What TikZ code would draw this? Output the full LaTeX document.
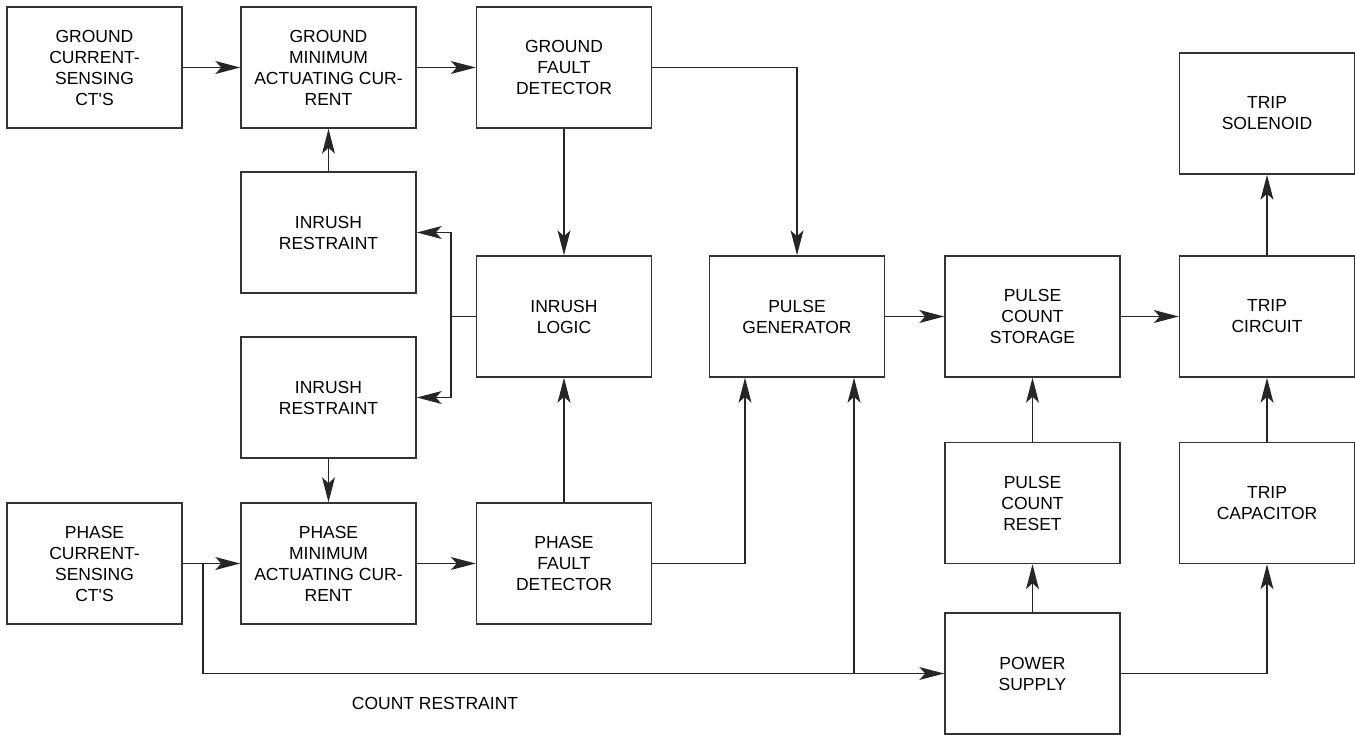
\documentclass[tikz,border=0pt]{standalone}
\usepackage{fontspec}
\setmainfont{Liberation Sans}
\usetikzlibrary{arrows.meta,calc}
\begin{document}
\begin{tikzpicture}[x=1pt,y=-1pt,
  blk/.style={draw=black!80,line width=1.5pt,minimum width=175pt,minimum height=121pt,
    inner sep=0pt,align=center,font=\fontsize{17.5}{21}\selectfont,text=black},
  arr/.style={line width=1.5pt,draw=black!85,-{Stealth[length=25pt,width=13pt,inset=6pt,line width=0pt]}},
  ln/.style={line width=1.5pt,draw=black!85}]
\useasboundingbox (0,0) rectangle (1355,735);
\node[blk] (gct) at (94.5,67.5) {GROUND\\CURRENT-\\SENSING\\CT\textquotesingle S};
\node[blk] (gmin) at (328.5,67.5) {GROUND\\MINIMUM\\ACTUATING CUR-\\RENT};
\node[blk] (gfd) at (564,67.5) {GROUND\\FAULT\\DETECTOR};
\node[blk] (ir1) at (328.5,232.5) {INRUSH\\RESTRAINT};
\node[blk] (il) at (564,316.5) {INRUSH\\LOGIC};
\node[blk] (ir2) at (328.5,397.5) {INRUSH\\RESTRAINT};
\node[blk] (pg) at (797,316.5) {PULSE\\GENERATOR};
\node[blk] (pcs) at (1032.5,316.5) {PULSE\\COUNT\\STORAGE};
\node[blk] (tc) at (1267,316.5) {TRIP\\CIRCUIT};
\node[blk] (ts) at (1267,113.5) {TRIP\\SOLENOID};
\node[blk] (pcr) at (1032.5,503) {PULSE\\COUNT\\RESET};
\node[blk] (tcap) at (1267,503) {TRIP\\CAPACITOR};
\node[blk] (pct) at (94.5,563.5) {PHASE\\CURRENT-\\SENSING\\CT\textquotesingle S};
\node[blk] (pmin) at (328.5,563.5) {PHASE\\MINIMUM\\ACTUATING CUR-\\RENT};
\node[blk] (pfd) at (564,563.5) {PHASE\\FAULT\\DETECTOR};
\node[blk] (ps) at (1032.5,673.5) {POWER\\SUPPLY};
\node[font=\fontsize{17.5}{21}\selectfont,text=black] (cr) at (435,703) {COUNT RESTRAINT};
\coordinate (jx) at (451,316.5);
\coordinate (b1) at (203,563.5);
\coordinate (j2) at (854,673.5);
% top row
\draw[arr] (gct.east) -- (gmin.west);
\draw[arr] (gmin.east) -- (gfd.west);
\draw[arr] (gfd.east) -| (pg.north);
\draw[arr] (gfd.south) -- (il.north);
\draw[arr] (ir1.north) -- (gmin.south);
% inrush logic
\draw[ln] (il.west) -- (jx);
\draw[arr] (jx) |- (ir1.east);
\draw[arr] (jx) |- (ir2.east);
\draw[arr] (ir2.south) -- (pmin.north);
\draw[arr] (pfd.north) -- (il.south);
% phase row
\draw[arr] (pct.east) -- (pmin.west);
\draw[arr] (pmin.east) -- (pfd.west);
\draw[arr] (pfd.east) -| ([xshift=-52pt]pg.south);
\draw[arr] (b1) |- (ps.west);
\draw[arr] (j2) -- (j2 |- pg.south);
% right side
\draw[arr] (pg.east) -- (pcs.west);
\draw[arr] (pcs.east) -- (tc.west);
\draw[arr] (tc.north) -- (ts.south);
\draw[arr] (tcap.north) -- (tc.south);
\draw[arr] (pcr.north) -- (pcs.south);
\draw[arr] (ps.north) -- (pcr.south);
\draw[arr] (ps.east) -| (tcap.south);
\end{tikzpicture}
\end{document}
